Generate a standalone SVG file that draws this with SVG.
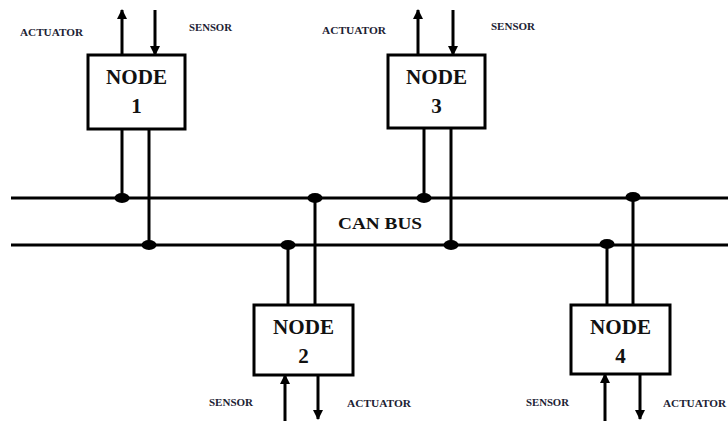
<svg xmlns="http://www.w3.org/2000/svg" width="728" height="421" viewBox="0 0 728 421">
<defs>
<marker id="ah" viewBox="0 0 10 10" refX="9" refY="5" markerWidth="3.4" markerHeight="3.4" markerUnits="strokeWidth" orient="auto">
<path d="M0,0 L10,5 L0,10 z" fill="#000"/>
</marker>
</defs>
<style>
.box{fill:#fff;stroke:#000;stroke-width:3}
.ln{stroke:#000;stroke-width:3;fill:none}
.ar{stroke:#000;stroke-width:3;fill:none;marker-end:url(#ah)}
.dot{fill:#000}
.nt{font-family:"Liberation Serif","DejaVu Serif",serif;font-weight:bold;font-size:21px;text-anchor:middle;fill:#111}
.lb{font-family:"Liberation Serif","DejaVu Serif",serif;font-weight:bold;font-size:11px;fill:#1c2233}
.bus{font-family:"Liberation Serif","DejaVu Serif",serif;font-weight:bold;font-size:17px;fill:#111}
</style>
<rect width="728" height="421" fill="#fff"/>
<g id="connectors">
<line class="ln" x1="11" y1="198" x2="728" y2="198"/>
<line class="ln" x1="11" y1="245" x2="728" y2="245"/>
<line class="ln" x1="122" y1="129" x2="122" y2="198"/>
<line class="ln" x1="149" y1="129" x2="149" y2="245"/>
<line class="ln" x1="424" y1="128" x2="424" y2="198"/>
<line class="ln" x1="451" y1="128" x2="451" y2="245"/>
<line class="ln" x1="288" y1="245" x2="288" y2="305"/>
<line class="ln" x1="315" y1="198" x2="315" y2="305"/>
<line class="ln" x1="607" y1="245" x2="607" y2="305"/>
<line class="ln" x1="633" y1="198" x2="633" y2="305"/>
<ellipse class="dot" cx="122" cy="198" rx="7.5" ry="5"/>
<ellipse class="dot" cx="149" cy="245" rx="7.5" ry="5"/>
<ellipse class="dot" cx="424" cy="198" rx="7.5" ry="5"/>
<ellipse class="dot" cx="451" cy="245" rx="7.5" ry="5"/>
<ellipse class="dot" cx="288" cy="245" rx="7.5" ry="5"/>
<ellipse class="dot" cx="315" cy="198" rx="7.5" ry="5"/>
<ellipse class="dot" cx="607" cy="244" rx="7.5" ry="5"/>
<ellipse class="dot" cx="633" cy="197" rx="7.5" ry="5"/>
<line class="ar" x1="122" y1="55" x2="122" y2="10"/>
<line class="ar" x1="155" y1="10" x2="155" y2="55"/>
<line class="ar" x1="418" y1="55" x2="418" y2="10"/>
<line class="ar" x1="453" y1="10" x2="453" y2="55"/>
<line class="ar" x1="285" y1="421" x2="285" y2="375"/>
<line class="ar" x1="318" y1="375" x2="318" y2="419"/>
<line class="ar" x1="605" y1="421" x2="605" y2="374"/>
<line class="ar" x1="640" y1="374" x2="640" y2="419"/>
</g>
<g id="node1">
<rect class="box" x="88" y="55" width="97" height="74"/>
<text class="nt" x="136.5" y="84" textLength="61" lengthAdjust="spacingAndGlyphs">NODE</text>
<text class="nt" x="136.5" y="113">1</text>
</g>
<g id="node3">
<rect class="box" x="388" y="55" width="97" height="73"/>
<text class="nt" x="436.5" y="84" textLength="61" lengthAdjust="spacingAndGlyphs">NODE</text>
<text class="nt" x="436.5" y="113">3</text>
</g>
<g id="node2">
<rect class="box" x="254" y="305" width="99" height="70"/>
<text class="nt" x="303.5" y="334" textLength="61" lengthAdjust="spacingAndGlyphs">NODE</text>
<text class="nt" x="303.5" y="363">2</text>
</g>
<g id="node4">
<rect class="box" x="571" y="305" width="99" height="69"/>
<text class="nt" x="620.5" y="334" textLength="61" lengthAdjust="spacingAndGlyphs">NODE</text>
<text class="nt" x="620.5" y="363">4</text>
</g>
<g id="labels">
<text class="lb" x="20" y="36" textLength="63" lengthAdjust="spacingAndGlyphs">ACTUATOR</text>
<text class="lb" x="189" y="31" textLength="43" lengthAdjust="spacingAndGlyphs">SENSOR</text>
<text class="lb" x="322" y="34" textLength="64" lengthAdjust="spacingAndGlyphs">ACTUATOR</text>
<text class="lb" x="491" y="30" textLength="44" lengthAdjust="spacingAndGlyphs">SENSOR</text>
<text class="lb" x="209" y="406" textLength="44" lengthAdjust="spacingAndGlyphs">SENSOR</text>
<text class="lb" x="347" y="407" textLength="64" lengthAdjust="spacingAndGlyphs">ACTUATOR</text>
<text class="lb" x="526" y="406" textLength="43" lengthAdjust="spacingAndGlyphs">SENSOR</text>
<text class="lb" x="663" y="407" textLength="63" lengthAdjust="spacingAndGlyphs">ACTUATOR</text>
<text class="bus" x="338" y="229" textLength="84" lengthAdjust="spacingAndGlyphs">CAN BUS</text>
</g>
</svg>
